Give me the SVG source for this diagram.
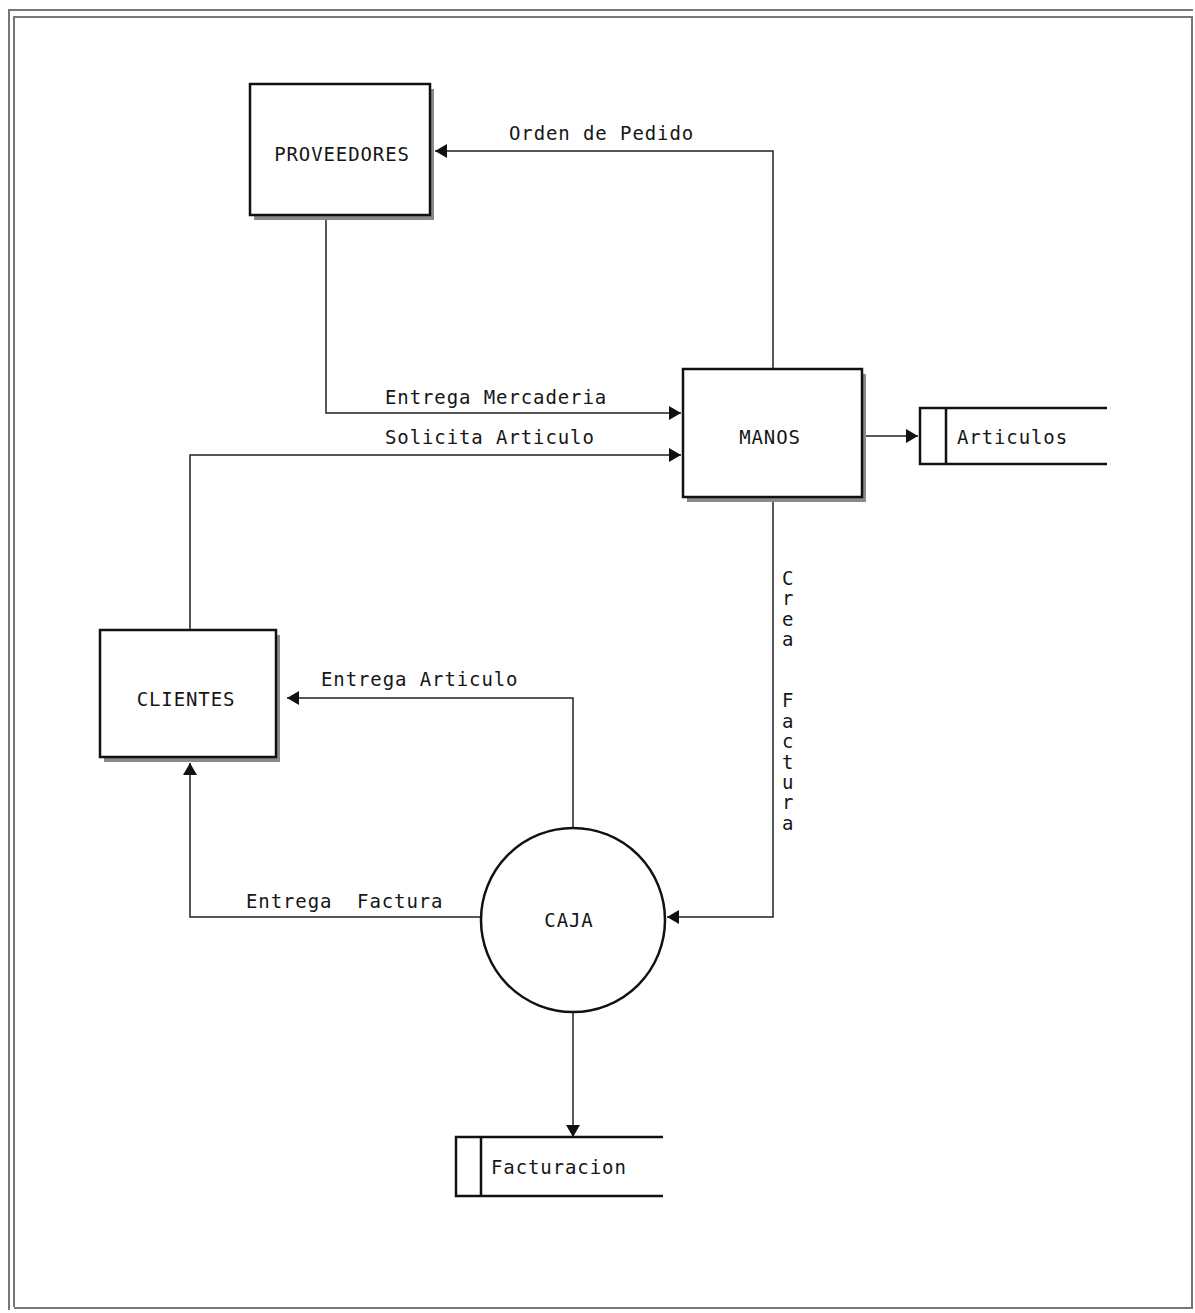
<svg xmlns="http://www.w3.org/2000/svg" width="1195" height="1313" viewBox="0 0 1195 1313">
<defs>
<marker id="arr" markerWidth="13" markerHeight="14" refX="12" refY="7" orient="auto" markerUnits="userSpaceOnUse">
<path d="M0,0 L12,7 L0,14 Z" fill="#111"/>
</marker>
</defs>
<style>
.frame{fill:none;stroke:#777;stroke-width:2}
.box{fill:#fff;stroke:#111;stroke-width:2.5}
.shadow{fill:#8a8a8a}
.line{fill:none;stroke:#222;stroke-width:1.5}
.store{fill:none;stroke:#111;stroke-width:2.5}
text{font-family:"DejaVu Sans Mono","Liberation Mono",monospace;font-size:19px;fill:#161616;letter-spacing:0.9px}
.n{text-anchor:middle}
</style>
<rect width="1195" height="1313" fill="#fff"/>
<g id="frame">
<path class="frame" d="M9,1310 L9,10 L1193,10"/>
<path class="frame" d="M14,1307 L14,17 L1193,17"/>
<path class="frame" d="M14,1308 L1192,1308 L1192,17"/>
</g>
<g id="connectors">
<path class="line" d="M773,368 L773,151 L435,151" marker-end="url(#arr)"/>
<text x="509" y="140">Orden de Pedido</text>
<path class="line" d="M326,220 L326,413 L681,413" marker-end="url(#arr)"/>
<text x="385" y="404">Entrega Mercaderia</text>
<path class="line" d="M190,630 L190,455 L681,455" marker-end="url(#arr)"/>
<text x="385" y="444">Solicita Articulo</text>
<path class="line" d="M866,436 L918,436" marker-end="url(#arr)"/>
<path class="line" d="M773,502 L773,917 L667,917" marker-end="url(#arr)"/>
<text x="782" y="585"><tspan x="782">C</tspan><tspan x="782" dy="20.4">r</tspan><tspan x="782" dy="20.4">e</tspan><tspan x="782" dy="20.4">a</tspan><tspan x="782" dy="61.2">F</tspan><tspan x="782" dy="20.4">a</tspan><tspan x="782" dy="20.4">c</tspan><tspan x="782" dy="20.4">t</tspan><tspan x="782" dy="20.4">u</tspan><tspan x="782" dy="20.4">r</tspan><tspan x="782" dy="20.4">a</tspan></text>
<path class="line" d="M573,829 L573,698 L287,698" marker-end="url(#arr)"/>
<text x="321" y="686">Entrega Articulo</text>
<path class="line" d="M481,917 L190,917 L190,763" marker-end="url(#arr)"/>
<text x="246" y="908" xml:space="preserve" style="white-space:pre">Entrega  Factura</text>
<path class="line" d="M573,1011 L573,1137" marker-end="url(#arr)"/>
</g>
<g id="proveedores">
<rect class="shadow" x="254" y="89" width="180" height="131"/>
<rect class="box" x="250" y="84" width="180" height="131"/>
<text class="n" x="342" y="161">PROVEEDORES</text>
</g>
<g id="manos">
<rect class="shadow" x="687" y="374" width="179" height="128"/>
<rect class="box" x="683" y="369" width="179" height="128"/>
<text class="n" x="770" y="444">MANOS</text>
</g>
<g id="clientes">
<rect class="shadow" x="104" y="635" width="176" height="127"/>
<rect class="box" x="100" y="630" width="176" height="127"/>
<text class="n" x="186" y="706">CLIENTES</text>
</g>
<g id="caja">
<circle cx="573" cy="920" r="92" fill="#fff" stroke="#111" stroke-width="2.5"/>
<text class="n" x="569" y="927">CAJA</text>
</g>
<g id="articulos">
<path class="store" d="M1107,408 L920,408 L920,464 L1107,464 M946,408 L946,464"/>
<text x="957" y="444">Articulos</text>
</g>
<g id="facturacion">
<path class="store" d="M663,1137 L456,1137 L456,1196 L663,1196 M481,1137 L481,1196"/>
<text x="491" y="1174">Facturacion</text>
</g>
</svg>
